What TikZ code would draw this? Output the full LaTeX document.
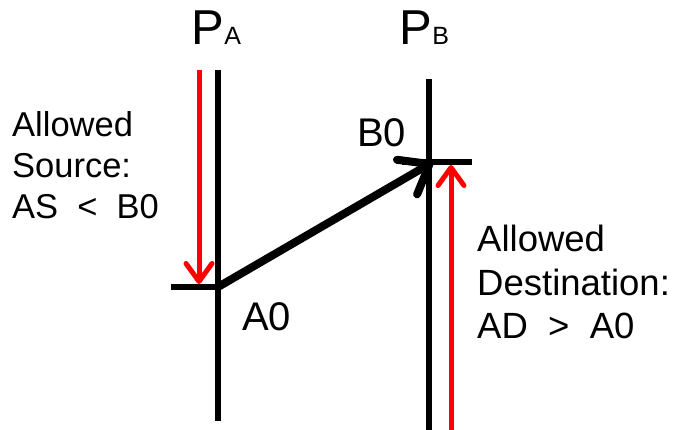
\documentclass[tikz,border=0pt]{standalone}
\usepackage{fontspec}
\setmainfont{Liberation Sans}
\usetikzlibrary{arrows.meta}
\begin{document}
\begin{tikzpicture}[x=1pt,y=-1pt,
  timeline/.style={line width=6pt},
  tickline/.style={line width=5.5pt},
  redarrow/.style={draw=red,line width=5pt,-{Straight Barb[length=18pt,width=26pt,round]}},
  msg/.style={line width=8pt,-{Straight Barb[length=26pt,width=40pt,round]}},
  lbl/.style={anchor=base west,inner sep=0pt,font=\fontsize{34.5}{42}\selectfont},
  lblr/.style={anchor=base west,inner sep=0pt,font=\fontsize{36.5}{43}\selectfont},
  big/.style={anchor=base west,inner sep=0pt,font=\fontsize{49}{55}\selectfont},
  sub/.style={anchor=base west,inner sep=0pt,font=\fontsize{25}{30}\selectfont},
  evt/.style={anchor=base west,inner sep=0pt,font=\fontsize{40}{48}\selectfont}
]
\useasboundingbox (0,0) rectangle (677,430);
% process labels
\node[big] (PA) at (191,45) {P};
\node[sub] (PAs) at (PA.base east) {A};
\node[big] (PB) at (399,45) {P};
\node[sub] (PBs) at (PB.base east) {B};
% coordinates
\coordinate (PAtop) at (218,70);
\coordinate (PAbot) at (218,421);
\coordinate (PBtop) at (429,79);
\coordinate (PBbot) at (429,430);
\coordinate (A0) at (218,287);
\coordinate (A0l) at (171,287);
\coordinate (B0) at (429,162);
\coordinate (B0l) at (402,162);
\coordinate (B0r) at (472,162);
\coordinate (RAtop) at (199,70);
\coordinate (RAtip) at (199,284);
\coordinate (RBbot) at (451,430);
\coordinate (RBtip) at (451,165);
\coordinate (msgtip) at (433,162);
% timelines
\draw[timeline] (PAtop) -- (PAbot);
\draw[timeline] (PBtop) -- (PBbot);
% ticks
\draw[tickline] (A0l) -- (A0);
\draw[tickline] (B0l) -- (B0r);
% red arrows
\draw[redarrow] (RAtop) -- (RAtip);
\draw[redarrow] (RBbot) -- (RBtip);
% message
\draw[msg] (A0) -- (msgtip);
% event labels
\node[evt] (lA0) at (242,330) {A0};
\node[evt] (lB0) at (357,147) {B0};
% left text
\node[lbl] (s1) at (12,137) {Allowed};
\node[lbl] (s2) at (12,178) {Source:};
\node[lbl] (s3) at (12,219) {AS\ \ <\ \ B0};
% right text
\node[lblr] (d1) at (477,252) {Allowed};
\node[lblr] (d2) at (477,295) {Destination:};
\node[lblr] (d3) at (477,338) {AD\ \ >\ \ A0};
\end{tikzpicture}
\end{document}
